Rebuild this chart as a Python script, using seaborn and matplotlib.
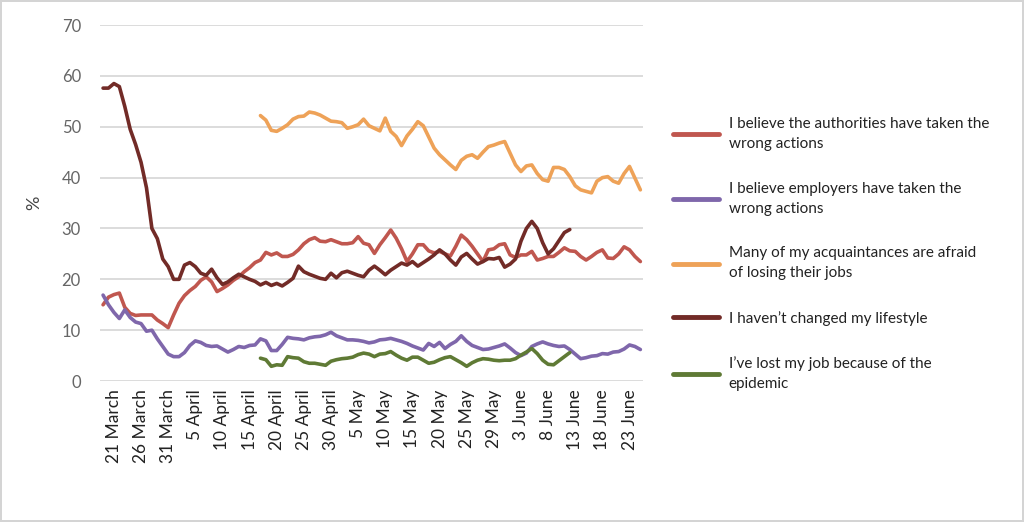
import numpy as np
import pandas as pd
import matplotlib
matplotlib.use("Agg")
import matplotlib.pyplot as plt
import seaborn as sns

# one value per day-slot, 100 slots (19 March .. 25 June); None = no data
AUTHORITIES = [
    15, 16.5, 17, 17.3, 14.5, 13.3, 12.9, 13, 13, 13,
    12, 11.3, 10.5, 13, 15.3, 16.8, 17.8, 18.6, 19.8, 20.5,
    19.5, 17.6, 18.2, 18.9, 19.8, 20.5, 21.5, 22.3, 23.3, 23.8,
    25.3, 24.8, 25.2, 24.5, 24.5, 24.9, 25.8, 27, 27.8, 28.2,
    27.5, 27.4, 27.8, 27.4, 27, 27, 27.2, 28.4, 27.1, 26.8,
    25.1, 26.8, 28.2, 29.7, 28.1, 26, 23.5, 25, 26.8, 26.8,
    25.6, 25.2, 25.5, 25, 24.6, 26.5, 28.7, 27.8, 26.5, 25,
    23.5, 25.8, 26, 26.8, 27, 24.8, 24.3, 24.8, 24.8, 25.5,
    23.8, 24.1, 24.5, 24.5, 25.3, 26.2, 25.6, 25.5, 24.5, 23.8,
    24.5, 25.3, 25.8, 24.2, 24.1, 25, 26.4, 25.8, 24.5, 23.5,
]
EMPLOYERS = [
    16.9, 15, 13.5, 12.3, 14, 12.5, 11.6, 11.3, 9.8, 10,
    8.3, 6.8, 5.3, 4.8, 4.8, 5.6, 7, 7.9, 7.6, 7,
    6.8, 6.9, 6.3, 5.7, 6.2, 6.8, 6.6, 7, 7.1, 8.3,
    7.9, 6, 6, 7.2, 8.6, 8.4, 8.3, 8.1, 8.5, 8.7,
    8.8, 9.1, 9.6, 8.9, 8.5, 8.1, 8.1, 8, 7.8, 7.5,
    7.7, 8.1, 8.2, 8.4, 8.1, 7.8, 7.4, 6.9, 6.5, 6.1,
    7.4, 6.8, 7.6, 6.4, 7.2, 7.8, 8.9, 7.8, 7, 6.6,
    6.2, 6.3, 6.6, 6.9, 7.3, 6.5, 5.6, 5, 5.5, 6.8,
    7.3, 7.7, 7.3, 7, 6.8, 6.9, 6.2, 5.3, 4.4, 4.6,
    4.9, 5, 5.4, 5.3, 5.7, 5.8, 6.3, 7.1, 6.8, 6.2,
]
ACQUAINTANCES = [None] * 29 + [
    52.2, 51.3, 49.3, 49.1, 49.7, 50.4, 51.5, 52, 52.1, 52.9,
    52.7, 52.3, 51.7, 51.1, 51, 50.8, 49.7, 50, 50.4, 51.5,
    50.2, 49.7, 49.2, 51.7, 49.1, 48.1, 46.3, 48.2, 49.5, 51,
    50.2, 48, 45.8, 44.5, 43.5, 42.5, 41.6, 43.4, 44.2, 44.5,
    43.8, 45, 46.1, 46.4, 46.8, 47.1, 44.8, 42.5, 41.2, 42.3,
    42.5, 40.8, 39.6, 39.3, 42, 42, 41.6, 40.2, 38.4, 37.6,
    37.3, 37, 39.3, 40, 40.2, 39.3, 38.9, 40.8, 42.2, 39.9,
    37.6,
]
LIFESTYLE = [
    57.6, 57.6, 58.5, 57.9, 54, 49.5, 46.5, 43, 38, 30,
    28, 24, 22.5, 20, 20, 22.8, 23.3, 22.5, 21.2, 20.8,
    22, 20.3, 19, 19.5, 20.3, 21, 20.5, 20, 19.6, 18.9,
    19.4, 18.8, 19.2, 18.7, 19.4, 20.2, 22.6, 21.5, 21, 20.6,
    20.2, 20, 21.2, 20.3, 21.3, 21.6, 21.2, 20.8, 20.5, 21.8,
    22.6, 21.8, 20.9, 21.8, 22.5, 23.2, 22.8, 23.5, 22.6, 23.3,
    24, 24.8, 25.8, 25, 23.8, 22.8, 24.4, 25.1, 24, 23,
    23.5, 24.1, 24, 24.3, 22.4, 23, 24, 27.5, 30, 31.4,
    30, 27.2, 25, 26, 27.6, 29.2, 29.8,
] + [None] * 13
LOST_JOB = [None] * 29 + [
    4.5, 4.2, 2.9, 3.2, 3.1, 4.8, 4.6, 4.5, 3.8, 3.5,
    3.5, 3.3, 3.1, 3.9, 4.2, 4.4, 4.5, 4.7, 5.2, 5.5,
    5.3, 4.8, 5.3, 5.4, 5.8, 5.1, 4.5, 4.1, 4.7, 4.7,
    4.1, 3.5, 3.7, 4.2, 4.6, 4.8, 4.2, 3.6, 2.9, 3.6,
    4.1, 4.4, 4.3, 4.1, 4.0, 4.1, 4.1, 4.4, 5.1, 5.7,
    6.4, 5.4, 4.1, 3.3, 3.2, 4.0, 4.8, 5.6,
] + [None] * 13

TICK_LABELS = [
    "21 March", "26 March", "31 March", "5 April", "10 April", "15 April",
    "20 April", "25 April", "30 April", "5 May", "10 May", "15 May",
    "20 May", "25 May", "29 May", "3 June", "8 June", "13 June",
    "18 June", "23 June",
]

SERIES = {
    "I believe the authorities have taken the\nwrong actions": AUTHORITIES,
    "I believe employers have taken the\nwrong actions": EMPLOYERS,
    "Many of my acquaintances are afraid\nof losing their jobs": ACQUAINTANCES,
    "I haven\u2019t changed my lifestyle": LIFESTYLE,
    "I\u2019ve lost my job because of the\nepidemic": LOST_JOB,
}
COLORS = ["#c0574f", "#7f67ab", "#eea258", "#722b27", "#5f7a35"]

rows = []
for name, vals in SERIES.items():
    for i, v in enumerate(vals):
        if v is not None:
            rows.append({"idx": i, "value": v, "series": name})
df = pd.DataFrame(rows)

sns.set_style("white")
plt.rcParams["font.family"] = ["Lato", "DejaVu Sans"]

fig = plt.figure(figsize=(10.24, 5.22), dpi=100)
fig.patch.set_edgecolor("#d4d4d4")
fig.patch.set_linewidth(1.5)
ax = fig.add_axes([0.098, 0.27, 0.53, 0.682])

sns.lineplot(
    data=df, x="idx", y="value", hue="series",
    hue_order=list(SERIES.keys()), palette=COLORS,
    linewidth=2.6, estimator=None, ax=ax,
)

ax.set_xlim(-0.5, 99.5)
ax.set_ylim(0, 70)
ax.set_yticks(range(0, 71, 10))
ax.grid(axis="y", color="#d9d9d9", linewidth=1.3)
ax.set_axisbelow(True)
ax.set_xticks(range(2, 100, 5))
ax.set_xticklabels(TICK_LABELS, rotation=90, fontsize=12.5, color="#222222")
ax.tick_params(axis="y", labelsize=12, labelcolor="#666666", length=0, pad=14)
ax.tick_params(axis="x", length=0, pad=6)
ax.set_xlabel("")
ax.set_ylabel("%", fontsize=13, color="#444444", labelpad=14)
for s in ax.spines.values():
    s.set_visible(False)

handles, labels = ax.get_legend_handles_labels()
leg = ax.legend(
    handles, labels, loc="upper left", bbox_to_anchor=(1.03, 0.78),
    frameon=False, fontsize=11, handlelength=3.0, handletextpad=0.65,
    labelspacing=2.0, labelcolor="#222222",
)
for line in leg.get_lines():
    line.set_linewidth(3.5)
for t in leg.get_texts():
    t.set_linespacing(1.55)

fig.savefig("out.png", dpi=100)
